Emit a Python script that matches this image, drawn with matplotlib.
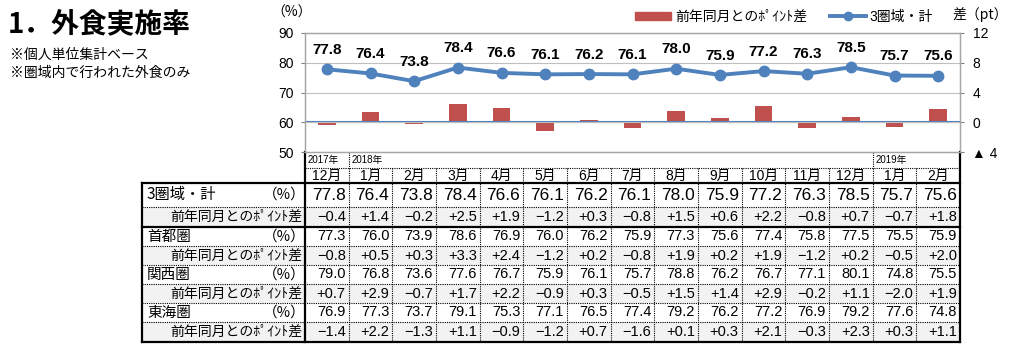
import matplotlib
matplotlib.use("Agg")
import matplotlib.pyplot as plt
from matplotlib.lines import Line2D
from matplotlib.patches import Patch, Rectangle
import numpy as np

plt.rcParams['font.family'] = ['Liberation Sans', 'Noto Sans CJK JP', 'DejaVu Sans']

# ---------------- data ----------------
months = ['12月', '1月', '2月', '3月', '4月', '5月', '6月', '7月', '8月',
          '9月', '10月', '11月', '12月', '1月', '2月']
year_labels = {0: '2017年', 1: '2018年', 13: '2019年'}

total = [77.8, 76.4, 73.8, 78.4, 76.6, 76.1, 76.2, 76.1, 78.0, 75.9, 77.2, 76.3, 78.5, 75.7, 75.6]
total_diff = [-0.4, 1.4, -0.2, 2.5, 1.9, -1.2, 0.3, -0.8, 1.5, 0.6, 2.2, -0.8, 0.7, -0.7, 1.8]
shutoken = [77.3, 76.0, 73.9, 78.6, 76.9, 76.0, 76.2, 75.9, 77.3, 75.6, 77.4, 75.8, 77.5, 75.5, 75.9]
shutoken_diff = [-0.8, 0.5, 0.3, 3.3, 2.4, -1.2, 0.2, -0.8, 1.9, 0.2, 1.9, -1.2, 0.2, -0.5, 2.0]
kansai = [79.0, 76.8, 73.6, 77.6, 76.7, 75.9, 76.1, 75.7, 78.8, 76.2, 76.7, 77.1, 80.1, 74.8, 75.5]
kansai_diff = [0.7, 2.9, -0.7, 1.7, 2.2, -0.9, 0.3, -0.5, 1.5, 1.4, 2.9, -0.2, 1.1, -2.0, 1.9]
tokai = [76.9, 77.3, 73.7, 79.1, 75.3, 77.1, 76.5, 77.4, 79.2, 76.2, 77.2, 76.9, 79.2, 77.6, 74.8]
tokai_diff = [-1.4, 2.2, -1.3, 1.1, -0.9, -1.2, 0.7, -1.6, 0.1, 0.3, 2.1, -0.3, 2.3, 0.3, 1.1]

rate_label = '（%）'
diff_label = '前年同月とのﾎﾟｲﾝﾄ差'
region_names = ['3圏域・計', '首都圏', '関西圏', '東海圏']
region_rates = [total, shutoken, kansai, tokai]
region_diffs = [total_diff, shutoken_diff, kansai_diff, tokai_diff]

left_ticks = [50, 60, 70, 80, 90]
right_ticks = [-4, 0, 4, 8, 12]
right_ticklabels = ['▲ 4', '0', '4', '8', '12']

BLUE = '#4F81BD'
RED = '#C0504D'

# ---------------- layout (pixels) ----------------
W, H = 1024, 350
X0, X1 = 305, 960          # plot / table data columns
Y_TOP, Y_BOT = 33, 152     # plot area
TBL_L = 142
n = len(months)
cw = (X1 - X0) / n

fig = plt.figure(figsize=(W / 100, H / 100), dpi=100)

ax = fig.add_axes([X0 / W, 1 - Y_BOT / H, (X1 - X0) / W, (Y_BOT - Y_TOP) / H])
ax2 = ax.twinx()
ax.set_zorder(ax2.get_zorder() + 1)
ax.patch.set_visible(False)

x = np.arange(n)
ax2.bar(x, total_diff, width=0.4, color=RED, zorder=2)
ax2.axhline(0, color=BLUE, lw=1.5, zorder=3)
ax2.set_ylim(-4, 12)
ax2.set_yticks(right_ticks)
ax2.set_yticklabels(right_ticklabels, fontsize=10)

ax.plot(x, total, color=BLUE, lw=2.8, marker='o', ms=7.5, mfc=BLUE, mec=BLUE, zorder=4)
for xi, v in zip(x, total):
    ax.annotate(f'{v:.1f}', (xi, v), xytext=(0, 14), textcoords='offset points',
                ha='center', va='center', fontsize=11, fontweight='bold')

ax.set_xlim(-0.5, n - 0.5)
ax.set_ylim(50, 90)
ax.set_yticks(left_ticks)
ax.tick_params(axis='y', labelsize=10, length=3, pad=5, color='#808080')
ax2.tick_params(axis='y', length=3, pad=6, color='#808080')
ax.set_xticks([])
ax2.set_xticks([])
for t in left_ticks[1:]:
    ax.axhline(t, color='#BFBFBF', lw=0.8, zorder=0)
for a in (ax, ax2):
    for s in a.spines.values():
        s.set_color('#A6A6A6')
        s.set_linewidth(0.9)

# legend
handles = [Patch(facecolor=RED, edgecolor=RED, label=diff_label),
           Line2D([], [], color=BLUE, lw=2.8, marker='o', ms=6, label='3圏域・計')]
fig.legend(handles=handles, loc='center left', bbox_to_anchor=(635 / W, 1 - 17 / H),
           ncol=2, frameon=False, fontsize=10, borderpad=0, borderaxespad=0,
           handlelength=2.6, handleheight=0.55, handletextpad=0.3, columnspacing=1.6)

# titles & axis captions
fig.text(8 / W, 1 - 24 / H, '1．外食実施率', fontsize=20, fontweight='bold',
         family=['Noto Sans CJK JP', 'DejaVu Sans'], va='center', ha='left')
fig.text(10 / W, 1 - 55 / H, '※個人単位集計ベース', fontsize=10, va='center', ha='left',
         family=['Noto Sans CJK JP', 'DejaVu Sans'])
fig.text(10 / W, 1 - 73 / H, '※圏域内で行われた外食のみ', fontsize=10, va='center', ha='left',
         family=['Noto Sans CJK JP', 'DejaVu Sans'])
fig.text(292 / W, 1 - 13 / H, '（%）', fontsize=10, va='center', ha='center',
         family=['Noto Sans CJK JP', 'DejaVu Sans'])
fig.text(980 / W, 1 - 15 / H, '差（pt）', fontsize=10, va='center', ha='center',
         family=['Noto Sans CJK JP', 'DejaVu Sans'])

# ---------------- table overlay (pixel coords) ----------------
tb = fig.add_axes([0, 0, 1, 1])
tb.set_xlim(0, W)
tb.set_ylim(H, 0)
tb.axis('off')
tb.patch.set_visible(False)

Y_YEAR = 168
Y_HEAD = 183
row_edges = [183, 207, 227, 246, 265, 284, 303, 322, 342]
DOT = (0, (1, 1))
NUMF = ['Liberation Sans Narrow', 'Liberation Sans', 'DejaVu Sans']
JPF = ['Noto Sans CJK JP', 'DejaVu Sans']

# shaded diff rows
for r in range(8):
    if r % 2 == 1:
        tb.add_patch(Rectangle((TBL_L, row_edges[r]), X1 - TBL_L, row_edges[r + 1] - row_edges[r],
                               facecolor='#F2F2F2', edgecolor='none', zorder=0))

# year row
tb.plot([X0, X1], [Y_YEAR, Y_YEAR], color='black', lw=0.8, ls=DOT)
for i, lab in year_labels.items():
    tb.text(X0 + i * cw + 3, (Y_BOT + Y_YEAR) / 2 + 0.5, lab, fontsize=7, va='center', ha='left')
    if i > 0:
        tb.plot([X0 + i * cw] * 2, [Y_BOT, Y_YEAR], color='black', lw=0.8, ls=DOT)

# month header + column separators
for i, m in enumerate(months):
    tb.text(X0 + (i + 0.5) * cw, (Y_YEAR + Y_HEAD) / 2 + 0.5, m, fontsize=10, va='center', ha='center')
    if i > 0:
        tb.plot([X0 + i * cw] * 2, [Y_YEAR, row_edges[-1]], color='black', lw=0.8, ls=DOT)

# horizontal lines
for k, y in enumerate(row_edges):
    if k in (0, 2, 8):
        tb.plot([TBL_L, X1], [y, y], color='black', lw=1.6, solid_capstyle='projecting')
    else:
        tb.plot([TBL_L, X1], [y, y], color='black', lw=0.8, ls=DOT)

# vertical thick borders
tb.plot([X0, X0], [Y_BOT, row_edges[-1]], color='black', lw=1.6, solid_capstyle='projecting')
tb.plot([X1, X1], [Y_BOT, row_edges[-1]], color='black', lw=1.6, solid_capstyle='projecting')
tb.plot([TBL_L, TBL_L], [row_edges[0], row_edges[-1]], color='black', lw=1.6, solid_capstyle='projecting')


def fmt_diff(v):
    s = f'{abs(v):.1f}'
    return ('+' if v >= 0 else '−') + s


for g in range(4):
    r_rate = 2 * g
    r_diff = 2 * g + 1
    yc = (row_edges[r_rate] + row_edges[r_rate + 1]) / 2
    yd = (row_edges[r_diff] + row_edges[r_diff + 1]) / 2
    big = (g == 0)
    tb.text(TBL_L + 5, yc, region_names[g], fontsize=11 if big else 10.5, va='center', ha='left', family=JPF)
    tb.text(X0 + 1, yc, rate_label, fontsize=10.5, va='center', ha='right', family=JPF)
    tb.text(X0 - 3, yd, diff_label, fontsize=10, va='center', ha='right', family=JPF)
    for i in range(n):
        tb.text(X0 + (i + 1) * cw - 3, yc, f'{region_rates[g][i]:.1f}',
                fontsize=12.5 if big else 10.5, va='center', ha='right', family=NUMF)
        tb.text(X0 + (i + 1) * cw - 3, yd, fmt_diff(region_diffs[g][i]), fontsize=10.5,
                va='center', ha='right', family=NUMF)

fig.savefig('out.png', dpi=100)
